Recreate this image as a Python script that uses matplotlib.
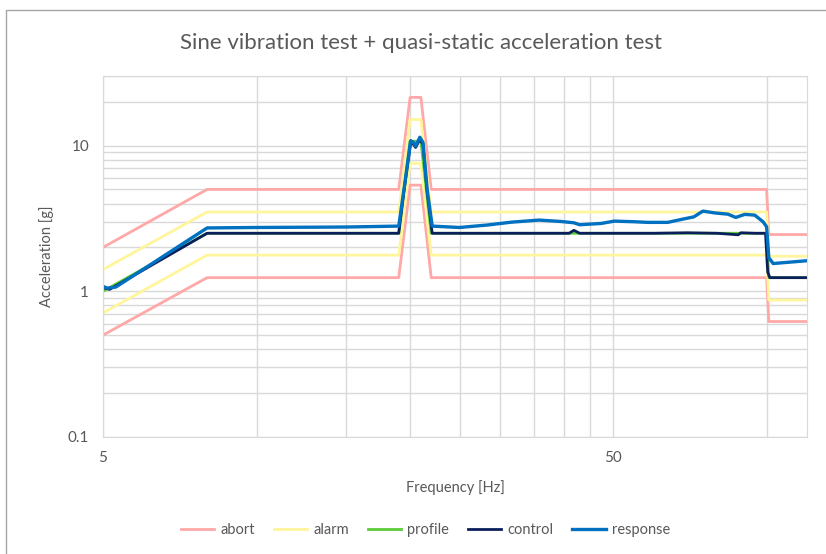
import matplotlib
matplotlib.use("Agg")
import matplotlib.pyplot as plt
from matplotlib.patches import Rectangle
from matplotlib.ticker import FixedLocator, FixedFormatter, NullFormatter

# Test levels (limits are +/-3 dB and +/-6 dB around the profile)
lim_f = [5, 8, 19, 20, 21, 22, 100, 101, 120]
profile = [1.0, 2.5, 2.5, 10.7, 10.7, 2.5, 2.5, 1.24, 1.24]
abort_hi = [2.0, 5.0, 5.0, 21.4, 21.4, 5.0, 5.0, 2.45, 2.45]
abort_lo = [0.5, 1.24, 1.24, 5.35, 5.35, 1.24, 1.24, 0.62, 0.62]
alarm_hi = [1.41, 3.5, 3.5, 15.1, 15.1, 3.5, 3.5, 1.74, 1.74]
alarm_lo = [0.71, 1.77, 1.77, 7.55, 7.55, 1.77, 1.77, 0.87, 0.87]

ctrl_f = [5, 5.15, 8, 12, 19, 19.5, 20.05, 20.3, 20.5, 20.9, 21.2, 21.6, 22.1,
          30, 41, 41.9, 43, 60, 70, 80, 88, 89, 95, 99.5, 100.5, 101.5, 120]
control = [1.06, 1.03, 2.5, 2.5, 2.5, 5.2, 10.4, 10.2, 9.7, 11.0, 10.2, 4.8, 2.5,
           2.5, 2.5, 2.62, 2.5, 2.5, 2.52, 2.5, 2.44, 2.52, 2.5, 2.5, 1.35, 1.24, 1.24]

resp_f = [5, 5.1, 5.3, 8, 10, 15, 19, 19.5, 20.05, 20.3, 20.5, 20.9, 21.2, 21.6,
          22.1, 23, 25, 28.4, 31.6, 35.8, 39.6, 41.9, 43, 47.4, 50.3, 55, 58.5,
          64, 68, 72, 75, 79, 84, 87, 90.6, 94.8, 98.4, 100, 101, 103, 110, 120]
response = [1.08, 1.05, 1.07, 2.72, 2.74, 2.76, 2.8, 5.3, 10.8, 10.5, 9.9, 11.4,
            10.5, 5.0, 2.8, 2.78, 2.74, 2.85, 2.98, 3.08, 3.01, 2.95, 2.86, 2.92,
            3.03, 3.0, 2.97, 2.97, 3.11, 3.24, 3.55, 3.45, 3.38, 3.21, 3.37, 3.33,
            3.0, 2.77, 1.7, 1.55, 1.58, 1.62]

x_ticks = [5, 50]
y_ticks = [0.1, 1, 10]

plt.rcParams["font.family"] = ["Lato", "DejaVu Sans"]
txt = "#595959"
grid = "#d9d9d9"

fig = plt.figure(figsize=(8.26, 5.54), dpi=100)
ax = fig.add_axes([0.1247, 0.2112, 0.977 - 0.1247, 0.8628 - 0.2112])

c_abort, c_alarm, c_prof = "#ffa8a8", "#fff59a", "#5ccc3a"
c_ctrl, c_resp = "#0b1f5c", "#0070c0"

ax.plot(lim_f, abort_hi, color=c_abort, lw=2.0, label="abort")
ax.plot(lim_f, abort_lo, color=c_abort, lw=2.0)
ax.plot(lim_f, alarm_hi, color=c_alarm, lw=2.0, label="alarm")
ax.plot(lim_f, alarm_lo, color=c_alarm, lw=2.0)
ax.plot(lim_f, profile, color=c_prof, lw=2.0, label="profile")
ax.plot(ctrl_f, control, color=c_ctrl, lw=2.0, label="control")
ax.plot(resp_f, response, color=c_resp, lw=2.4, label="response")

ax.set_xscale("log")
ax.set_yscale("log")
ax.set_xlim(5, 120)
ax.set_ylim(0.1, 30)

xminor = [10, 15, 20, 25, 30, 35, 40, 45, 100]
yminor = [0.2, 0.3, 0.4, 0.5, 0.6, 0.7, 0.8, 0.9,
          2, 3, 4, 5, 6, 7, 8, 9, 20, 30]
ax.xaxis.set_major_locator(FixedLocator(x_ticks))
ax.xaxis.set_major_formatter(FixedFormatter([str(v) for v in x_ticks]))
ax.xaxis.set_minor_locator(FixedLocator(xminor))
ax.xaxis.set_minor_formatter(NullFormatter())
ax.yaxis.set_major_locator(FixedLocator(y_ticks))
ax.yaxis.set_major_formatter(FixedFormatter(["0.1", "1", "10"]))
ax.yaxis.set_minor_locator(FixedLocator(yminor))
ax.yaxis.set_minor_formatter(NullFormatter())
ax.grid(which="both", color=grid, lw=1.0)
ax.set_axisbelow(True)
ax.tick_params(which="both", length=0, labelsize=11, colors=txt, pad=10)
for s in ax.spines.values():
    s.set_color(grid)

ax.set_xlabel("Frequency [Hz]", fontsize=10.5, color=txt, labelpad=11)
ax.set_ylabel("Acceleration [g]", fontsize=10.5, color=txt, labelpad=10)
fig.text(0.51, 0.923, "Sine vibration test + quasi-static acceleration test",
         ha="center", va="center", fontsize=16, color=txt)

fig.legend(loc="center", ncol=5, frameon=False,
           fontsize=10.5, handlelength=2.3, columnspacing=1.3, handletextpad=0.4,
           labelcolor=txt, bbox_to_anchor=(0.515, 1 - 530 / 554),
           bbox_transform=fig.transFigure)

fig.patches.append(Rectangle((6 / 826, -0.05), 1.2, 1 - 10 / 554 + 0.05,
                             transform=fig.transFigure, fill=False,
                             edgecolor="#a6a6a6", lw=1.0))

fig.savefig("out.png", dpi=100)
